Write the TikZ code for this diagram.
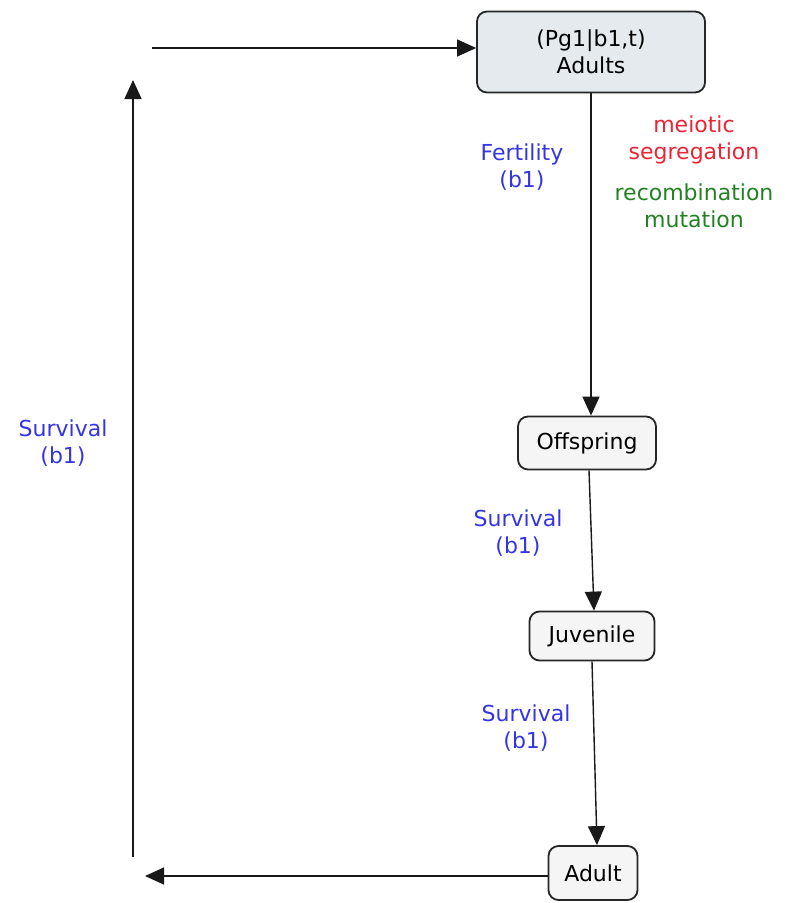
\documentclass[tikz,border=0pt]{standalone}
\usepackage{fontspec}
\setmainfont{DejaVu Sans}
\usetikzlibrary{arrows.meta, positioning}
\definecolor{rateblue}{RGB}{52,52,230}
\definecolor{segred}{RGB}{236,36,52}
\definecolor{recgreen}{RGB}{34,130,34}

\begin{document}
\begin{tikzpicture}[x=1pt, y=-1pt,
      stage/.style={draw=black!85, line width=1.8pt, rounded corners=10pt, fill=gray!8, align=center, font=\fontsize{22}{27}\selectfont},
      arrow/.style={-{Triangle[length=19pt, width=17pt]}, line width=1.4pt, draw=black!90},
      rate/.style={align=center, text=rateblue, font=\fontsize{22}{27}\selectfont},
      note/.style={align=center, font=\fontsize{22}{27}\selectfont}
    ]
      \useasboundingbox (0,0) rectangle (787,903);

      % Life stages
      \node[stage, fill={rgb,255:red,228;green,234;blue,238}, minimum width=228pt, minimum height=81pt] (adults) at (591,52) {(Pg1|b1,t)\\Adults};
      \node[stage, minimum width=138pt, minimum height=53pt] (offspring) at (587,443) {Offspring};
      \node[stage, minimum width=125pt, minimum height=49pt] (juvenile) at (592,636) {Juvenile};
      \node[stage, minimum width=89pt, minimum height=54pt] (adult) at (593,873) {Adult};

      % Corner points of the return loop
      \coordinate (loop_top) at (152,48);
      \coordinate (loop_up) at (133,80);
      \coordinate (loop_low) at (133,857);
      \coordinate (loop_end) at (145,876);

      % Transitions
      \draw[arrow] (adults.south) -- (adults.south |- offspring.north);
      \draw[arrow] ([xshift=2pt]offspring.south) -- ([xshift=2pt]juvenile.north);
      \draw[arrow] (juvenile.south) -- ([xshift=4pt]adult.north);
      \draw[arrow] (adult.west |- loop_end) -- (loop_end);
      \draw[arrow] (loop_low) -- (loop_up);
      \draw[arrow] (loop_top) -- (adults.west |- loop_top);

      % Labels
      \node[note, text=segred] (segregation) at (694,140) {meiotic\\segregation};
      \node[note, text=recgreen, below=13pt of segregation] (recombination) {recombination\\mutation};
      \node[rate] (fertility) at (522,167) {Fertility\\(b1)};
      \node[rate] (surv_loop) at (63,443) {Survival\\(b1)};
      \node[rate] (surv_juv) at (518,533) {Survival\\(b1)};
      \node[rate] (surv_adult) at (526,728) {Survival\\(b1)};
    \end{tikzpicture}
\end{document}
